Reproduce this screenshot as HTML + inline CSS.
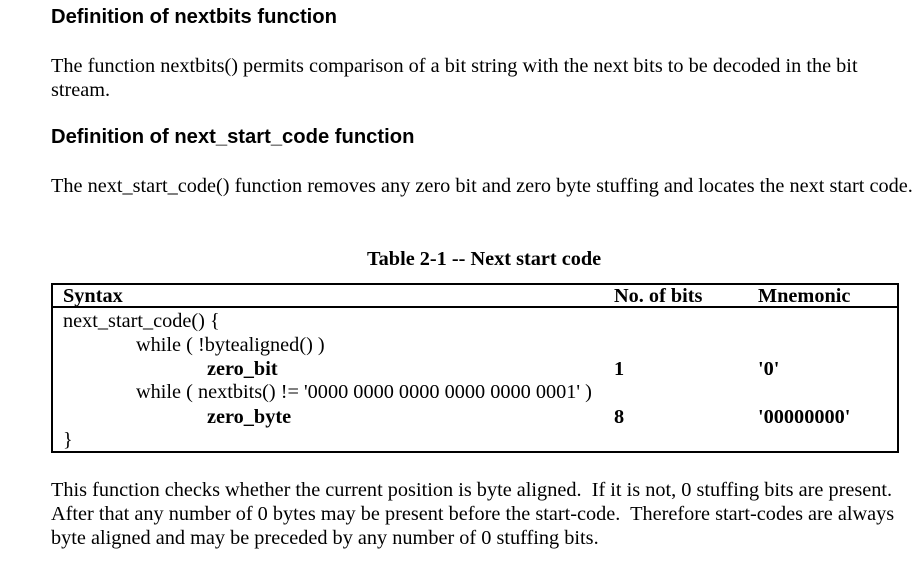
<!DOCTYPE html>
<html><head><style>
body{margin:0;width:915px;height:575px;background:#fff;position:relative;overflow:hidden;color:#000}
.a{position:absolute;white-space:nowrap;line-height:1}
.h{font-family:"Liberation Sans",sans-serif;font-weight:bold;font-size:20.2px}
.s{font-family:"Liberation Serif",serif;font-size:20.3px}
.b{font-weight:bold}
</style></head><body>
<div class="a h" style="left:51px;top:7px">Definition of nextbits function</div>
<div class="a s" style="left:51px;top:56px">The function nextbits() permits comparison of a bit string with the next bits to be decoded in the bit</div>
<div class="a s" style="left:51px;top:80px">stream.</div>
<div class="a h" style="left:51px;top:127px">Definition of next_start_code function</div>
<div class="a s" style="left:51px;top:176px">The next_start_code() function removes any zero bit and zero byte stuffing and locates the next start code.</div>
<div class="a s b" style="left:367px;top:249px">Table 2-1 -- Next start code</div>
<div style="position:absolute;left:51px;top:283px;width:844px;height:166px;border:2px solid #000"></div>
<div style="position:absolute;left:51px;top:306px;width:848px;height:2px;background:#000"></div>
<div class="a s b" style="left:63px;top:286px">Syntax</div>
<div class="a s b" style="left:614px;top:286px">No. of bits</div>
<div class="a s b" style="left:758px;top:286px">Mnemonic</div>
<div class="a s" style="left:63px;top:311px">next_start_code() {</div>
<div class="a s" style="left:136px;top:335px">while ( !bytealigned() )</div>
<div class="a s b" style="left:207px;top:359px">zero_bit</div>
<div class="a s b" style="left:614px;top:359px">1</div>
<div class="a s b" style="left:758px;top:359px">'0'</div>
<div class="a s" style="left:136px;top:382px">while ( nextbits() != '0000 0000 0000 0000 0000 0001' )</div>
<div class="a s b" style="left:207px;top:407px">zero_byte</div>
<div class="a s b" style="left:614px;top:407px">8</div>
<div class="a s b" style="left:758px;top:407px">'00000000'</div>
<div class="a s" style="left:63px;top:430px">}</div>
<div class="a s" style="left:51px;top:480px">This function checks whether the current position is byte aligned.&nbsp; If it is not, 0 stuffing bits are present.</div>
<div class="a s" style="left:51px;top:504px">After that any number of 0 bytes may be present before the start-code.&nbsp; Therefore start-codes are always</div>
<div class="a s" style="left:51px;top:528px">byte aligned and may be preceded by any number of 0 stuffing bits.</div>
</body></html>
